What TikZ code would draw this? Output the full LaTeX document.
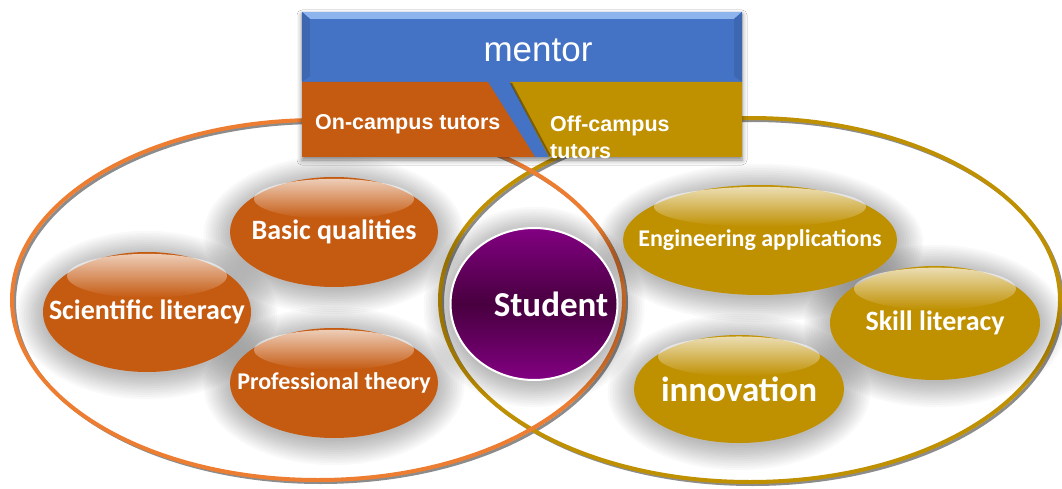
\documentclass[tikz,border=0pt]{standalone}
\usepackage{fontspec}
\setmainfont{Liberation Sans}
\newfontfamily\calfont{Carlito}
\usetikzlibrary{shapes.geometric,shadows.blur,fadings,calc}

\definecolor{mblue}{HTML}{4472C4}
\definecolor{mbluelight}{HTML}{8EB4EE}
\definecolor{morange}{HTML}{C55A11}
\definecolor{mgold}{HTML}{BF9000}
\definecolor{ringorange}{HTML}{ED7D31}
\definecolor{ringgold}{HTML}{BF9000}
\definecolor{mpurple}{HTML}{820082}
\definecolor{mpurpled}{HTML}{48003F}
\definecolor{ringshadow}{HTML}{8C8C8C}

\tikzfading[name=gloss, top color=transparent!30, bottom color=transparent!100]

\newcommand\glossy[3]{\fill[white, path fading=gloss] ($(#1.center)!0.6!(#1.north)$) ellipse [x radius=#2, y radius=#3];}
% soft grey haze: concentric translucent ellipses (cx, cy, rx, ry)
\newcommand\haze[4]{\foreach \k in {0,...,11}{\fill[black, opacity=0.022] (#1,#2+3) ellipse [x radius={#3pt+(11-\k)*2.4pt}, y radius={#4pt+(11-\k)*2.2pt}];}}

\begin{document}
\begin{tikzpicture}[x=1pt,y=-1pt,
  pill/.style={ellipse, inner sep=0pt},
  orangepill/.style={pill, fill=morange},
  goldpill/.style={pill, fill=mgold},
  pilltext/.style={text=white, inner sep=0pt, font=\calfont\bfseries\fontsize{#1}{#1}\selectfont},
  ringline/.style={line width=4pt},
  ringshade/.style={line width=3pt, draw=ringshadow},
  tutortext/.style={text=white, font=\bfseries\fontsize{21.5}{27}\selectfont, inner sep=0pt}
]
\useasboundingbox (0,0) rectangle (1062,489);
\fill[white] (0,0) rectangle (1062,489);

% big rings
\draw[ringshade] (752.5,302.5) ellipse [x radius=310pt, y radius=182pt];
\draw[ringshade] (320.5,302.5) ellipse [x radius=306pt, y radius=180pt];
\draw[ringline, draw=ringgold] (750,300) ellipse [x radius=310pt, y radius=182pt];
\draw[ringline, draw=ringorange] (318,300) ellipse [x radius=306pt, y radius=180pt];

% haze round the pills
\haze{334}{232}{104}{55}
\haze{147}{312}{104}{60}
\haze{334}{383}{104}{55}
\haze{760}{240}{137}{55}
\haze{935}{323}{105}{57}
\haze{739}{389}{105}{54}
\haze{534}{304}{84}{76}

% left group
\node[orangepill, minimum width=208pt, minimum height=110pt, label={[pilltext=28]center:Basic qualities}] (bq) at (334,232) {};
\glossy{bq}{80pt}{20pt}
\node[orangepill, minimum width=208pt, minimum height=120pt, label={[pilltext=28]center:Scientific literacy}] (sl) at (147,312) {};
\glossy{sl}{80pt}{22pt}
\node[orangepill, minimum width=208pt, minimum height=110pt, label={[pilltext=24]center:Professional theory}] (pt) at (334,383) {};
\glossy{pt}{80pt}{20pt}

% right group
\node[goldpill, minimum width=274pt, minimum height=110pt, label={[pilltext=24]center:Engineering applications}] (ea) at (760,240) {};
\glossy{ea}{106pt}{20pt}
\node[goldpill, minimum width=210pt, minimum height=114pt, label={[pilltext=28]center:Skill literacy}] (sk) at (935,323) {};
\glossy{sk}{81pt}{21pt}
\node[goldpill, minimum width=210pt, minimum height=108pt, label={[pilltext=35]center:innovation}] (inn) at (739,389) {};
\glossy{inn}{81pt}{20pt}

% student
\node[pill, minimum width=167pt, minimum height=152pt, top color=mpurple, bottom color=mpurple, middle color=mpurpled,
  draw=white, line width=2pt,
  label={[pilltext=35, xshift=17pt]center:Student}] (student) at (534,304) {};

% mentor box
\node[rectangle, inner sep=0pt, minimum width=440pt, minimum height=145pt,
  fill=mblue, blur shadow={shadow xshift=0pt, shadow yshift=-3pt, shadow blur radius=5pt, shadow opacity=50}] (box) at (522,84.5) {};
\fill[mbluelight] (box.north west) -- (box.north east) -- ++(-8,7) -- ($(box.north west)+(8,7)$) -- cycle;
\fill[mblue!90!black] (box.north west) -- ($(box.north west)+(8,7)$) -- (310,76) -- (302,82) -- cycle;
\fill[mblue!90!black] (box.north east) -- ($(box.north east)+(-8,7)$) -- (734,76) -- (742,82) -- cycle;
\fill[morange] (302,82) -- (488,82) -- (535,157) -- (302,157) -- cycle;
\fill[mgold] (510,82) -- (742,82) -- (742,157) -- (549,157) -- cycle;
\draw[black, opacity=0.35, line width=2pt] (511,83) -- (550,156);
\node[text=white, font=\fontsize{35}{38}\selectfont, inner sep=0pt] (mentortext) at (538,50) {mentor};
\node[tutortext, anchor=base west] (oncampus) at (315,130) {On-campus tutors};
\node[tutortext, anchor=north west, align=left] (offcampus) at (550,116) {Off-campus\\tutors};
\end{tikzpicture}
\end{document}
